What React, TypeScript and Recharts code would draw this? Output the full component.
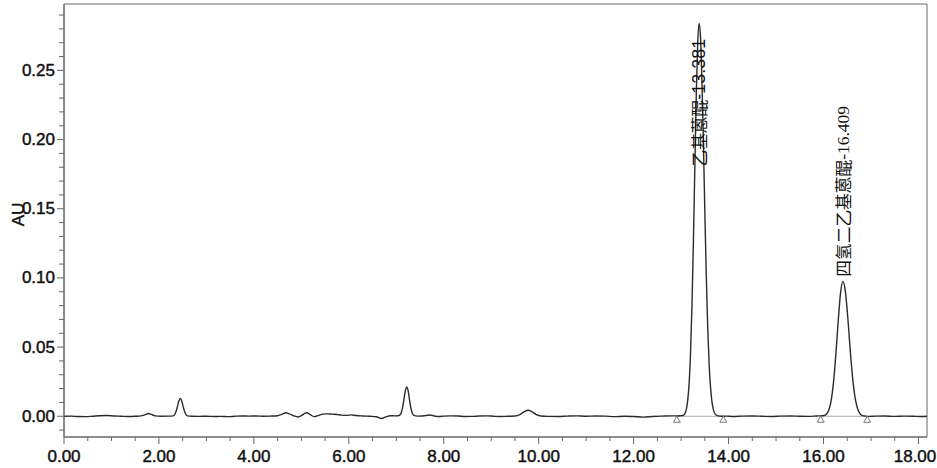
import React from 'react';
import {
  ComposedChart,
  Line,
  XAxis,
  YAxis,
  ReferenceArea,
  ReferenceDot,
  ReferenceLine,
} from 'recharts';

type Pt = { t: number; v: number };

// trace (time in min, absorbance in AU)
const traceStart: Pt[] = [
  { t: 0.0, v: 0.0 }, { t: 0.15, v: 0.0001 }, { t: 0.3, v: -0.0002 }, { t: 0.45, v: -0.0003 },
  { t: 0.6, v: 0.0 }, { t: 0.75, v: 0.0004 }, { t: 0.9, v: 0.0005 }, { t: 1.05, v: 0.0002 },
  { t: 1.2, v: 0.0 }, { t: 1.35, v: -0.0002 }, { t: 1.5, v: 0.0 }, { t: 1.62, v: 0.0003 },
  { t: 1.72, v: 0.0012 }, { t: 1.78, v: 0.002 }, { t: 1.84, v: 0.0013 }, { t: 1.92, v: 0.0003 },
  { t: 2.05, v: 0.0 }, { t: 2.2, v: 0.0001 },
];

const tracePeak245: Pt[] = [
  { t: 2.3, v: 0.0003 }, { t: 2.33, v: 0.0012 }, { t: 2.36, v: 0.0034 }, { t: 2.39, v: 0.0071 },
  { t: 2.42, v: 0.011 }, { t: 2.45, v: 0.0128 }, { t: 2.48, v: 0.011 }, { t: 2.51, v: 0.0071 },
  { t: 2.54, v: 0.0034 }, { t: 2.57, v: 0.0012 }, { t: 2.6, v: 0.0003 },
];

const traceMiddle: Pt[] = [
  { t: 2.7, v: 0.0 }, { t: 2.85, v: -0.0001 }, { t: 3.0, v: 0.0 }, { t: 3.15, v: -0.0002 },
  { t: 3.3, v: -0.0001 }, { t: 3.45, v: -0.0003 }, { t: 3.6, v: 0.0 }, { t: 3.75, v: 0.0002 },
  { t: 3.9, v: 0.0001 }, { t: 4.05, v: 0.0002 }, { t: 4.2, v: 0.0 }, { t: 4.35, v: 0.0001 },
  { t: 4.5, v: 0.0004 }, { t: 4.6, v: 0.0016 }, { t: 4.67, v: 0.0025 }, { t: 4.75, v: 0.0017 },
  { t: 4.85, v: 0.0002 }, { t: 4.93, v: -0.0005 }, { t: 5.0, v: 0.0004 }, { t: 5.07, v: 0.002 },
  { t: 5.12, v: 0.0025 }, { t: 5.18, v: 0.0013 }, { t: 5.27, v: -0.0003 }, { t: 5.35, v: 0.0005 },
  { t: 5.45, v: 0.0015 }, { t: 5.55, v: 0.0017 }, { t: 5.65, v: 0.0015 }, { t: 5.75, v: 0.0013 },
  { t: 5.85, v: 0.0008 }, { t: 5.95, v: 0.0006 }, { t: 6.05, v: 0.001 }, { t: 6.15, v: 0.0005 },
  { t: 6.3, v: 0.0002 }, { t: 6.45, v: 0.0 }, { t: 6.58, v: -0.0004 }, { t: 6.69, v: -0.0016 },
  { t: 6.78, v: -0.0004 }, { t: 6.88, v: 0.0004 }, { t: 6.98, v: 0.0003 },
];

const tracePeak722: Pt[] = [
  { t: 7.04, v: 0.0004 }, { t: 7.07, v: 0.0008 }, { t: 7.1, v: 0.0022 }, { t: 7.13, v: 0.0058 },
  { t: 7.16, v: 0.0118 }, { t: 7.19, v: 0.0183 }, { t: 7.22, v: 0.0212 }, { t: 7.25, v: 0.0183 },
  { t: 7.28, v: 0.0117 }, { t: 7.31, v: 0.0056 }, { t: 7.34, v: 0.002 }, { t: 7.37, v: 0.0006 },
];

const traceLate: Pt[] = [
  { t: 7.45, v: 0.0001 }, { t: 7.55, v: 0.0002 }, { t: 7.65, v: 0.0006 }, { t: 7.71, v: 0.0009 },
  { t: 7.8, v: 0.0002 }, { t: 7.9, v: -0.0002 }, { t: 8.0, v: 0.0001 }, { t: 8.15, v: 0.0003 },
  { t: 8.3, v: 0.0002 }, { t: 8.45, v: -0.0002 }, { t: 8.6, v: -0.0001 }, { t: 8.75, v: 0.0002 },
  { t: 8.9, v: 0.0003 }, { t: 9.05, v: 0.0 }, { t: 9.2, v: -0.0002 }, { t: 9.35, v: 0.0 },
  { t: 9.5, v: 0.0002 }, { t: 9.6, v: 0.0012 }, { t: 9.7, v: 0.0034 }, { t: 9.78, v: 0.0043 },
  { t: 9.86, v: 0.0032 }, { t: 9.95, v: 0.0012 }, { t: 10.05, v: 0.0002 }, { t: 10.2, v: -0.0001 },
  { t: 10.4, v: -0.0002 }, { t: 10.6, v: 0.0001 }, { t: 10.8, v: 0.0003 }, { t: 11.0, v: 0.0 },
  { t: 11.2, v: 0.0002 }, { t: 11.4, v: 0.0001 }, { t: 11.6, v: -0.0003 }, { t: 11.8, v: 0.0 },
  { t: 12.0, v: -0.0002 }, { t: 12.2, v: -0.0006 }, { t: 12.4, v: -0.0002 }, { t: 12.6, v: 0.0001 },
  { t: 12.8, v: 0.0003 }, { t: 12.91, v: 0.0002 }, { t: 12.98, v: 0.0004 },
];

const tracePeakEthyl: Pt[] = [
  { t: 13.05, v: 0.0007 }, { t: 13.08, v: 0.002 }, { t: 13.11, v: 0.005 }, { t: 13.14, v: 0.0117 },
  { t: 13.17, v: 0.0245 }, { t: 13.2, v: 0.047 }, { t: 13.23, v: 0.0815 }, { t: 13.26, v: 0.128 },
  { t: 13.29, v: 0.181 }, { t: 13.32, v: 0.233 }, { t: 13.35, v: 0.27 }, { t: 13.381, v: 0.284 },
  { t: 13.41, v: 0.273 }, { t: 13.44, v: 0.241 }, { t: 13.47, v: 0.197 }, { t: 13.5, v: 0.148 },
  { t: 13.53, v: 0.102 }, { t: 13.56, v: 0.065 }, { t: 13.59, v: 0.038 }, { t: 13.62, v: 0.0209 },
  { t: 13.65, v: 0.0104 }, { t: 13.68, v: 0.0048 }, { t: 13.71, v: 0.002 }, { t: 13.76, v: 0.0005 },
];

const traceBetween: Pt[] = [
  { t: 13.85, v: 0.0 }, { t: 13.95, v: 0.0001 }, { t: 14.1, v: -0.0002 }, { t: 14.3, v: 0.0001 },
  { t: 14.5, v: 0.0002 }, { t: 14.7, v: 0.0 }, { t: 14.9, v: -0.0002 }, { t: 15.1, v: 0.0001 },
  { t: 15.3, v: 0.0002 }, { t: 15.5, v: 0.0 }, { t: 15.7, v: -0.0001 }, { t: 15.85, v: 0.0002 },
  { t: 15.95, v: 0.0003 },
];

const tracePeakTetra: Pt[] = [
  { t: 16.01, v: 0.0005 }, { t: 16.06, v: 0.0014 }, { t: 16.11, v: 0.0043 }, { t: 16.16, v: 0.0111 },
  { t: 16.21, v: 0.0243 }, { t: 16.26, v: 0.0447 }, { t: 16.31, v: 0.069 }, { t: 16.36, v: 0.0895 },
  { t: 16.409, v: 0.0975 }, { t: 16.46, v: 0.0904 }, { t: 16.51, v: 0.0719 }, { t: 16.56, v: 0.049 },
  { t: 16.61, v: 0.0288 }, { t: 16.66, v: 0.0145 }, { t: 16.71, v: 0.0062 }, { t: 16.76, v: 0.0023 },
  { t: 16.81, v: 0.0007 }, { t: 16.89, v: 0.0001 },
];

const traceEnd: Pt[] = [
  { t: 16.95, v: -0.0001 }, { t: 17.1, v: 0.0001 }, { t: 17.3, v: 0.0002 }, { t: 17.5, v: -0.0001 },
  { t: 17.7, v: 0.0001 }, { t: 17.9, v: 0.0 }, { t: 18.05, v: -0.0002 }, { t: 18.18, v: 0.0 },
];

const trace = [
  ...traceStart, ...tracePeak245, ...traceMiddle, ...tracePeak722, ...traceLate,
  ...tracePeakEthyl, ...traceBetween, ...tracePeakTetra, ...traceEnd,
];

// peak labels
const peakNames = ['乙基蒽醌', '四氢二乙基蒽醌'];
const peakTimes = [13.381, 16.409];
const peakLabelBase = [0.1805, 0.1009];

// integration start/end marks
const integrationMarks = [12.91, 13.89, 15.94, 16.92];

// axes
const xDomain: [number, number] = [0, 18.18];
const yDomain: [number, number] = [-0.015, 0.298];
const xMajorTicks = [0, 2, 4, 6, 8, 10, 12, 14, 16, 18];
const xAllTicks = [
  0, 0.5, 1, 1.5, 2, 2.5, 3, 3.5, 4, 4.5, 5, 5.5, 6, 6.5, 7, 7.5, 8, 8.5, 9, 9.5,
  10, 10.5, 11, 11.5, 12, 12.5, 13, 13.5, 14, 14.5, 15, 15.5, 16, 16.5, 17, 17.5, 18,
];
const yMajorTicks = [0, 0.05, 0.1, 0.15, 0.2, 0.25];
const yAllTicks = [
  -0.01, 0, 0.01, 0.02, 0.03, 0.04, 0.05, 0.06, 0.07, 0.08, 0.09, 0.1, 0.11, 0.12, 0.13,
  0.14, 0.15, 0.16, 0.17, 0.18, 0.19, 0.2, 0.21, 0.22, 0.23, 0.24, 0.25, 0.26, 0.27, 0.28, 0.29,
];

const axisFont = "'Liberation Sans', Arial, sans-serif";
const labelNumFonts = ["'Liberation Sans', Arial, sans-serif", "'Liberation Serif', 'Times New Roman', serif"];
const tickColor = '#666';
const textStyle = { fontSize: 17, fontFamily: axisFont, fill: '#111', stroke: '#111', strokeWidth: 0.45 };

const isMajor = (list: number[], v: number) => list.some((m) => Math.abs(m - v) < 1e-6);

const XTick = (props: any) => {
  const { x, y, payload } = props;
  const major = isMajor(xMajorTicks, payload.value);
  // keep the last label inside the picture, as the reference does
  const tx = Math.min(x, 915);
  return (
    <g>
      <line x1={x} x2={x} y1={y} y2={y + (major ? 7 : 4)} stroke={tickColor} />
      {major && (
        <text x={tx} y={y + 25} textAnchor="middle" {...textStyle}>
          {payload.value.toFixed(2)}
        </text>
      )}
    </g>
  );
};

const YTick = (props: any) => {
  const { x, y, payload } = props;
  const major = isMajor(yMajorTicks, payload.value);
  return (
    <g>
      <line x1={x - (major ? 7 : 5)} x2={x} y1={y} y2={y} stroke={tickColor} />
      {major && (
        <text x={x - 9} y={y} textAnchor="end" dominantBaseline="central" {...textStyle}>
          {payload.value.toFixed(2)}
        </text>
      )}
    </g>
  );
};

const triangle = (props: any) => {
  const { cx, cy } = props;
  return (
    <path
      d={`M${cx},${cy} L${cx - 3.5},${cy + 6} L${cx + 3.5},${cy + 6} Z`}
      fill="#fff"
      stroke="#777"
      strokeWidth={1}
    />
  );
};

const peakLabel = (i: number) => (props: any) => {
  const { cx, cy } = props;
  return (
    <text
      x={cx}
      y={cy}
      transform={`rotate(-90 ${cx} ${cy})`}
      dominantBaseline="central"
      textAnchor="start"
      fill="#111"
    >
      <tspan fontFamily="'Noto Sans CJK SC', sans-serif" fontSize={16.7}>{peakNames[i]}</tspan>
      <tspan fontFamily={labelNumFonts[i]} fontSize={i === 0 ? 18 : 17.5}>-{peakTimes[i].toFixed(3)}</tspan>
    </text>
  );
};

export default function App() {
  return (
    <div style={{ position: 'absolute', left: 0, top: 0, width: 937, height: 468, background: '#fff' }}>
      <ComposedChart
        width={937}
        height={468}
        data={trace}
        margin={{ top: 4, right: 10, bottom: 0, left: 8 }}
      >
        <XAxis
          type="number"
          dataKey="t"
          domain={xDomain}
          ticks={xAllTicks}
          interval={0}
          allowDataOverflow
          height={31}
          tickSize={0}
          tickMargin={0}
          tickLine={false}
          axisLine={{ stroke: tickColor }}
          tick={<XTick />}
        />
        <YAxis
          type="number"
          domain={yDomain}
          ticks={yAllTicks}
          interval={0}
          allowDataOverflow
          width={56}
          tickSize={0}
          tickMargin={0}
          tickLine={false}
          axisLine={{ stroke: tickColor }}
          tick={<YTick />}
          label={{
            content: (p: any) => {
              const vb = p.viewBox || { x: 8, y: 4, height: 433 };
              const lx = vb.x + 10;
              const ly = vb.y + vb.height / 2 - 6;
              return (
                <text
                  x={lx}
                  y={ly}
                  transform={`rotate(-90 ${lx} ${ly})`}
                  textAnchor="middle"
                  dominantBaseline="central"
                  {...textStyle}
                >
                  AU
                </text>
              );
            },
          }}
        />
        <ReferenceArea
          x1={xDomain[0]}
          x2={xDomain[1]}
          y1={yDomain[0]}
          y2={yDomain[1]}
          fill="none"
          stroke={tickColor}
          strokeWidth={1}
        />
        <ReferenceLine
          segment={[{ x: integrationMarks[0], y: 0 }, { x: integrationMarks[1], y: 0 }]}
          stroke="#aaa"
          strokeWidth={1}
        />
        <ReferenceLine
          segment={[{ x: integrationMarks[2], y: 0 }, { x: integrationMarks[3], y: 0 }]}
          stroke="#aaa"
          strokeWidth={1}
        />
        <Line
          type="monotone"
          dataKey="v"
          stroke="#2b2b2b"
          strokeWidth={1.4}
          dot={false}
          activeDot={false}
          isAnimationActive={false}
        />
        {integrationMarks.map((t) => (
          <ReferenceDot key={t} x={t} y={0} r={0} shape={triangle} />
        ))}
        {peakTimes.map((t, i) => (
          <ReferenceDot key={`lbl-${t}`} x={t} y={peakLabelBase[i]} r={0} shape={peakLabel(i)} />
        ))}
      </ComposedChart>
    </div>
  );
}
